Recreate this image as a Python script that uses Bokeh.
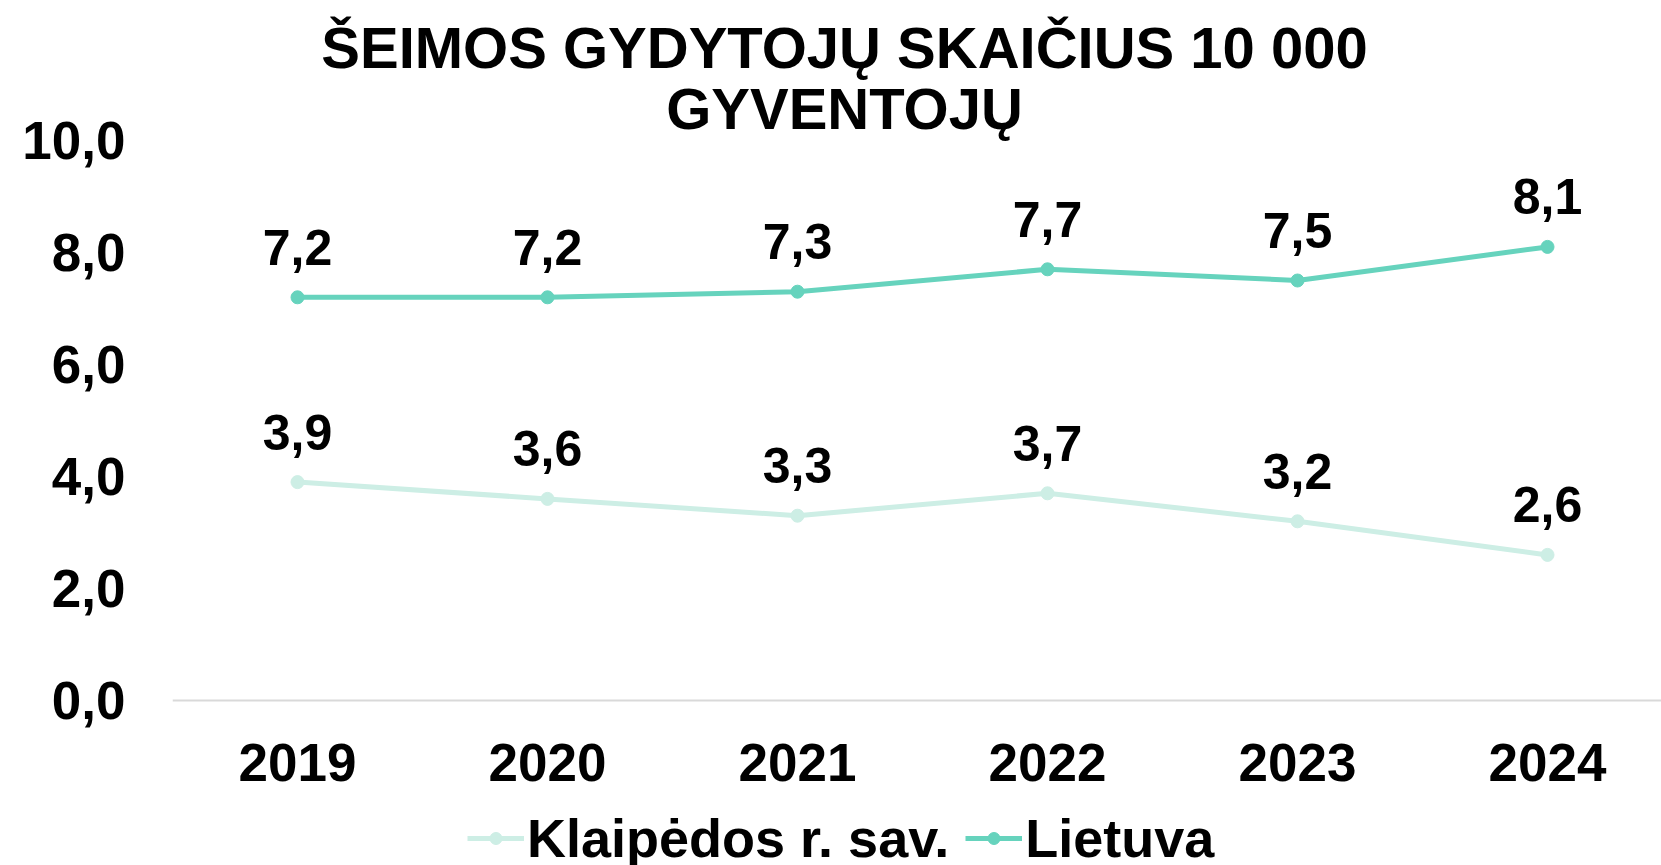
from bokeh.plotting import figure
from bokeh.models import Range1d, FixedTicker, Legend, LegendItem, ColumnDataSource, Label
from bokeh.core.properties import value
from bokeh.embed import file_html
from bokeh.resources import INLINE

years = [2019, 2020, 2021, 2022, 2023, 2024]
klaipedos = [3.9, 3.6, 3.3, 3.7, 3.2, 2.6]
lietuva = [7.2, 7.2, 7.3, 7.7, 7.5, 8.1]
y_ticks = [0, 2, 4, 6, 8, 10]
y_tick_labels = ["0,0", "2,0", "4,0", "6,0", "8,0", "10,0"]
series_names = ["Klaipėdos r. sav.", "Lietuva"]
title_lines = ["ŠEIMOS GYDYTOJŲ SKAIČIUS 10 000", "GYVENTOJŲ"]

C_KLA = "#CDEEE5"
C_LT = "#66D3BD"
FONT = "Liberation Sans"

W, H = 1661, 865
FL, Y0PX = 172, 700        # frame left, pixel row of value 0
PX_PER_YEAR = 250.0
PX_PER_UNIT = 56.0

x0 = years[0] - 0.5
x1 = x0 + (W - FL) / PX_PER_YEAR
y_lo = -(H - Y0PX) / PX_PER_UNIT
y_hi = Y0PX / PX_PER_UNIT

p = figure(width=W, height=H, output_backend="svg", toolbar_location=None,
           x_range=Range1d(x0, x1), y_range=Range1d(y_lo, y_hi),
           min_border_left=FL, min_border_right=0, min_border_top=0,
           min_border_bottom=0)
p.outline_line_color = None
p.xgrid.visible = False
p.ygrid.visible = False

p.xaxis.fixed_location = 0
p.xaxis.ticker = FixedTicker(ticks=years)
p.xaxis.major_label_overrides = {y: str(y) for y in years}
p.xaxis.axis_line_color = "#D9D9D9"
p.xaxis.axis_line_width = 2
p.xaxis.major_tick_line_color = None
p.xaxis.minor_tick_line_color = None
p.xaxis.major_tick_out = 0
p.xaxis.major_label_standoff = 43
p.xaxis.major_label_text_font = FONT
p.xaxis.major_label_text_font_style = "bold"
p.xaxis.major_label_text_font_size = "53px"
p.xaxis.major_label_text_color = "black"

p.yaxis.ticker = FixedTicker(ticks=y_ticks)
p.yaxis.major_label_overrides = dict(zip(y_ticks, y_tick_labels))
p.yaxis.axis_line_color = None
p.yaxis.major_tick_line_color = None
p.yaxis.minor_tick_line_color = None
p.yaxis.major_tick_out = 0
p.yaxis.major_label_standoff = 47
p.yaxis.major_label_text_font = FONT
p.yaxis.major_label_text_font_style = "bold"
p.yaxis.major_label_text_font_size = "53px"
p.yaxis.major_label_text_color = "black"

items = []
for name, vals, col in [(series_names[0], klaipedos, C_KLA), (series_names[1], lietuva, C_LT)]:
    src = ColumnDataSource(dict(x=years, y=vals, lab=[f"{v:.1f}".replace(".", ",") for v in vals]))
    r1 = p.line("x", "y", source=src, line_color=col, line_width=5)
    r2 = p.scatter("x", "y", source=src, size=13, fill_color=col, line_color=col)
    p.text("x", "y", text="lab", source=src, text_font=value(FONT), text_font_style="bold",
           text_font_size="50px", text_align="center", text_baseline="middle",
           y_offset=-50, text_color="black")
    items.append(LegendItem(label=name, renderers=[r1, r2]))

legend = Legend(items=items, orientation="horizontal", location=(295, -4),
                label_text_font=FONT, label_text_font_style="bold",
                label_text_font_size="54px", label_text_color="black",
                glyph_width=57, glyph_height=30, label_standoff=3, spacing=16,
                padding=0, margin=0, border_line_color=None, background_fill_alpha=0)
p.add_layout(legend, "center")

tx = x0 + (844 - FL) / PX_PER_YEAR
for i, line in enumerate(title_lines):
    ty = (Y0PX - (47 + 61 * i)) / PX_PER_UNIT
    p.add_layout(Label(x=tx, y=ty, text=line, text_align="center", text_baseline="middle",
                       text_font=FONT, text_font_style="bold", text_font_size="58px",
                       text_color="black"))

open("out.html", "w").write(file_html(p, INLINE))
